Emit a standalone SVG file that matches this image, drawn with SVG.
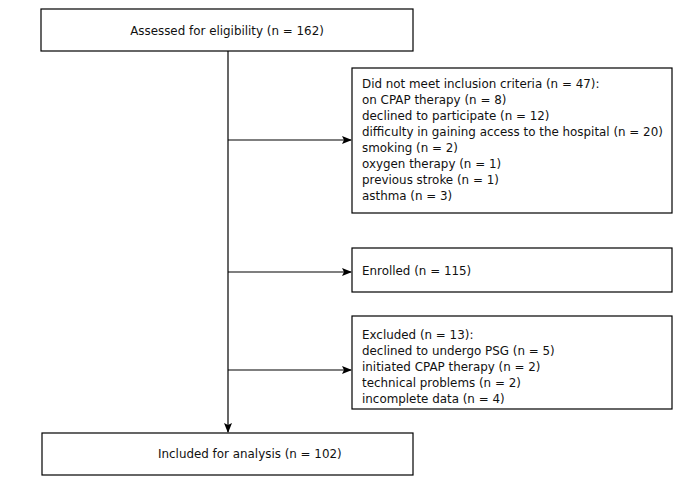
<svg xmlns="http://www.w3.org/2000/svg" width="678" height="484" viewBox="0 0 678 484">
<style>
.box{fill:#fff;stroke:#000;stroke-width:1.2}
text{font-family:"DejaVu Sans",sans-serif;font-size:11.9px;fill:#111}
.ln{stroke:#000;stroke-width:1.2;fill:none}
</style>
<defs>
<marker id="ah" markerWidth="10" markerHeight="8" refX="9" refY="4" orient="auto" markerUnits="userSpaceOnUse">
<path d="M0,0 L10,4 L0,8 L2,4 Z" fill="#000"/>
</marker>
</defs>
<rect width="678" height="484" fill="#fff"/>
<g id="connectors">
<path class="ln" d="M228,51 V432" marker-end="url(#ah)"/>
<path class="ln" d="M228,140 H351" marker-end="url(#ah)"/>
<path class="ln" d="M228,272 H351" marker-end="url(#ah)"/>
<path class="ln" d="M228,370 H351" marker-end="url(#ah)"/>
</g>
<g id="assessed">
<rect class="box" x="41" y="9" width="372" height="42"/>
<text x="227" y="35" text-anchor="middle">Assessed for eligibility (n = 162)</text>
</g>
<g id="notmeet">
<rect class="box" x="352" y="68" width="320" height="145"/>
<text x="362" y="88">Did not meet inclusion criteria (n = 47):</text>
<text x="362" y="104">on CPAP therapy (n = 8)</text>
<text x="362" y="120">declined to participate (n = 12)</text>
<text x="362" y="136">difficulty in gaining access to the hospital (n = 20)</text>
<text x="362" y="152">smoking (n = 2)</text>
<text x="362" y="168">oxygen therapy (n = 1)</text>
<text x="362" y="184">previous stroke (n = 1)</text>
<text x="362" y="200">asthma (n = 3)</text>
</g>
<g id="enrolled">
<rect class="box" x="352" y="248" width="320" height="44"/>
<text x="362" y="275">Enrolled (n = 115)</text>
</g>
<g id="excluded">
<rect class="box" x="352" y="316" width="320" height="93"/>
<text x="362" y="339">Excluded (n = 13):</text>
<text x="362" y="355">declined to undergo PSG (n = 5)</text>
<text x="362" y="371">initiated CPAP therapy (n = 2)</text>
<text x="362" y="387">technical problems (n = 2)</text>
<text x="362" y="403">incomplete data (n = 4)</text>
</g>
<g id="included">
<rect class="box" x="42" y="433" width="371" height="42"/>
<text x="158" y="458">Included for analysis (n = 102)</text>
</g>
</svg>
